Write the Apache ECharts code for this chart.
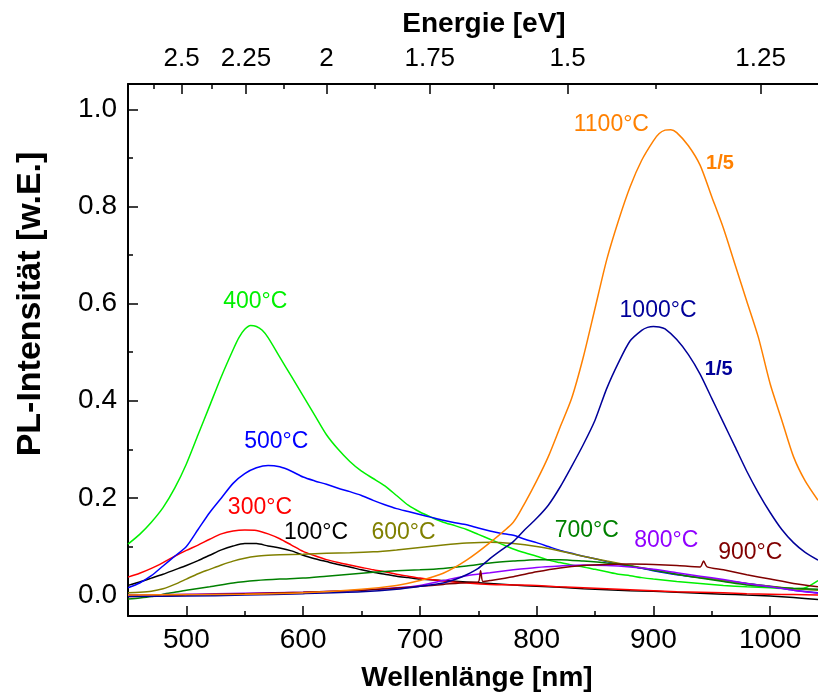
<!DOCTYPE html>
<html>
<head>
<meta charset="utf-8">
<script src="https://cdn.jsdelivr.net/npm/echarts@6/dist/echarts.min.js"></script>
<style>
html,body{margin:0;padding:0;background:#fff;}
#c{width:818px;height:697px;}
</style>
</head>
<body>
<div id="c"></div>
<script>
// ---- data ----
const xTicksNm = [500, 600, 700, 800, 900, 1000];
const xMinorNm = [550, 650, 750, 850, 950];
const yTicks = [0, 0.2, 0.4, 0.6, 0.8, 1.0];
const yMinor = [0.1, 0.3, 0.5, 0.7, 0.9];
const energyTicks = [2.5, 2.25, 2, 1.75, 1.5, 1.25];
const energyLabels = ["2.5", "2.25", "2", "1.75", "1.5", "1.25"];
const energyMinor = [2.625, 2.375, 2.125, 1.875, 1.625, 1.375];

const seriesNames = ["100°C","300°C","400°C","500°C","600°C","700°C","800°C","900°C","1000°C","1100°C"];

const pl100 = [[450,0.02],[460,0.027],[470,0.035],[480,0.043],[490,0.052],[500,0.061],[510,0.071],[520,0.082],[530,0.093],[540,0.101],[550,0.106],[560,0.106],[570,0.101],[580,0.097],[590,0.091],[600,0.082],[610,0.075],[620,0.069],[630,0.063],[640,0.058],[650,0.052],[660,0.047],[670,0.043],[680,0.039],[690,0.036],[700,0.033],[720,0.03],[740,0.027],[760,0.024],[780,0.021],[800,0.018],[820,0.016],[840,0.013],[860,0.011],[880,0.009],[900,0.008],[920,0.006],[940,0.004],[960,0.002],[980,0.0],[1000,-0.002],[1020,-0.005],[1041,-0.009]];
const pl300 = [[450,0.037],[460,0.045],[470,0.055],[480,0.067],[490,0.08],[500,0.092],[510,0.103],[520,0.115],[530,0.126],[540,0.132],[550,0.134],[560,0.133],[570,0.126],[580,0.116],[590,0.103],[600,0.09],[610,0.081],[620,0.073],[630,0.067],[640,0.062],[650,0.057],[660,0.052],[670,0.048],[680,0.043],[690,0.039],[700,0.035],[720,0.029],[740,0.025],[760,0.022],[780,0.021],[800,0.02],[820,0.017],[840,0.015],[860,0.013],[880,0.011],[900,0.009],[920,0.007],[940,0.006],[960,0.005],[980,0.003],[1000,0.002],[1020,0.001],[1041,0.0]];
const pl400 = [[450,0.105],[460,0.125],[470,0.15],[480,0.18],[490,0.22],[500,0.27],[510,0.33],[520,0.39],[530,0.45],[540,0.505],[545,0.53],[550,0.547],[555,0.555],[560,0.553],[565,0.545],[570,0.53],[580,0.49],[590,0.45],[600,0.41],[610,0.37],[620,0.33],[630,0.3],[640,0.275],[650,0.255],[660,0.24],[670,0.225],[680,0.205],[690,0.185],[700,0.171],[710,0.16],[720,0.15],[730,0.143],[740,0.135],[750,0.125],[760,0.115],[770,0.105],[780,0.095],[790,0.087],[800,0.08],[810,0.072],[820,0.067],[830,0.062],[840,0.058],[850,0.053],[860,0.048],[870,0.043],[880,0.04],[890,0.036],[900,0.033],[920,0.028],[940,0.024],[960,0.02],[980,0.017],[1000,0.015],[1020,0.013],[1030,0.015],[1041,0.03]];
const pl500 = [[450,0.015],[460,0.025],[470,0.04],[480,0.06],[490,0.08],[500,0.1],[510,0.135],[520,0.17],[530,0.2],[540,0.23],[550,0.25],[560,0.262],[570,0.267],[580,0.264],[590,0.255],[600,0.243],[610,0.235],[620,0.228],[630,0.22],[640,0.213],[650,0.205],[660,0.195],[670,0.186],[680,0.178],[690,0.172],[700,0.166],[710,0.16],[720,0.154],[730,0.149],[740,0.145],[750,0.138],[760,0.132],[770,0.127],[780,0.123],[790,0.115],[800,0.108],[810,0.1],[820,0.092],[830,0.086],[840,0.08],[850,0.075],[860,0.069],[870,0.064],[880,0.06],[890,0.055],[900,0.05],[920,0.042],[940,0.036],[960,0.03],[980,0.024],[1000,0.018],[1020,0.01],[1041,0.005]];
const pl600 = [[450,0.005],[460,0.006],[470,0.008],[480,0.013],[490,0.022],[500,0.033],[510,0.044],[520,0.053],[530,0.062],[540,0.07],[550,0.076],[560,0.08],[570,0.082],[580,0.083],[600,0.084],[620,0.086],[640,0.087],[660,0.089],[680,0.093],[700,0.098],[720,0.103],[740,0.107],[760,0.109],[780,0.106],[800,0.1],[820,0.091],[840,0.08],[860,0.07],[880,0.061],[900,0.052],[920,0.043],[940,0.036],[960,0.03],[980,0.024],[1000,0.018],[1020,0.013],[1041,0.01]];
const pl700 = [[450,-0.008],[460,-0.006],[470,-0.003],[480,0.002],[490,0.006],[500,0.01],[520,0.017],[540,0.025],[560,0.03],[580,0.033],[600,0.035],[620,0.039],[640,0.043],[660,0.047],[680,0.05],[700,0.052],[720,0.055],[740,0.06],[760,0.066],[780,0.07],[800,0.073],[820,0.073],[840,0.07],[860,0.066],[880,0.06],[900,0.051],[920,0.043],[940,0.035],[960,0.028],[980,0.021],[1000,0.017],[1020,0.014],[1041,0.012]];
const pl800 = [[450,0.0],[480,0.001],[500,0.002],[550,0.004],[600,0.006],[640,0.009],[660,0.012],[680,0.015],[700,0.02],[720,0.03],[740,0.04],[760,0.046],[780,0.052],[800,0.057],[820,0.06],[840,0.062],[860,0.061],[880,0.058],[900,0.053],[920,0.046],[940,0.039],[960,0.032],[980,0.024],[1000,0.017],[1020,0.01],[1041,0.004]];
const pl900 = [[450,-0.003],[480,-0.002],[500,0.0],[550,0.003],[600,0.006],[650,0.01],[700,0.018],[720,0.022],[740,0.026],[750,0.027],[752,0.05],[754,0.028],[760,0.03],[780,0.038],[800,0.048],[820,0.056],[840,0.061],[860,0.063],[880,0.064],[900,0.063],[920,0.061],[940,0.058],[943,0.07],[946,0.058],[960,0.052],[980,0.042],[1000,0.033],[1020,0.024],[1041,0.017]];
const pl1000 = [[450,-0.003],[500,-0.002],[550,0.0],[600,0.003],[650,0.007],[680,0.012],[700,0.018],[720,0.025],[730,0.032],[740,0.042],[750,0.055],[760,0.075],[770,0.093],[780,0.11],[790,0.135],[800,0.158],[810,0.185],[820,0.222],[830,0.265],[840,0.31],[850,0.36],[860,0.425],[870,0.478],[880,0.523],[890,0.545],[895,0.551],[900,0.553],[905,0.552],[910,0.548],[920,0.526],[930,0.495],[940,0.455],[950,0.405],[960,0.355],[970,0.305],[980,0.255],[990,0.21],[1000,0.17],[1010,0.135],[1020,0.108],[1030,0.088],[1041,0.072]];
const pl1100 = [[450,0.0],[500,0.001],[550,0.002],[600,0.005],[650,0.012],[680,0.02],[700,0.03],[720,0.045],[740,0.072],[760,0.108],[780,0.15],[790,0.19],[800,0.235],[810,0.285],[820,0.345],[830,0.405],[840,0.49],[850,0.59],[860,0.69],[870,0.77],[880,0.84],[890,0.895],[900,0.935],[905,0.95],[910,0.957],[915,0.958],[920,0.952],[930,0.925],[940,0.885],[950,0.82],[960,0.755],[970,0.68],[980,0.605],[990,0.53],[1000,0.435],[1010,0.36],[1020,0.285],[1030,0.235],[1041,0.195]];

// label anchor positions (data coords) for the in-plot annotations
const labelPos = {
  "100°C": [611, 0.129], "300°C": [563, 0.179], "400°C": [559, 0.605], "500°C": [577, 0.315],
  "600°C": [686, 0.129], "700°C": [843, 0.133], "800°C": [911, 0.112], "900°C": [983, 0.087],
  "1000°C": [904, 0.586], "1100°C": [864, 0.968]
};
const scaleNotes = [["1/5", [957, 0.889], "1100°C"], ["1/5", [956, 0.465], "1000°C"]];

const colors = {
  "100°C": "#000000", "300°C": "#ff0000", "400°C": "#00f000", "500°C": "#0000ff",
  "600°C": "#808000", "700°C": "#008000", "800°C": "#9000ff", "900°C": "#800000",
  "1000°C": "#000099", "1100°C": "#ff8000"
};
const dataSets = [pl100, pl300, pl400, pl500, pl600, pl700, pl800, pl900, pl1000, pl1100];

// ---- chart ----
const HC = 1239.84;
const FONT = "'Liberation Sans', Arial, sans-serif";
const XMIN = 450, XMAX = 1041, YMIN = -0.043, YMAX = 1.052;
const energyNm = energyTicks.map(e => HC / e);
const energyMinorNm = energyMinor.map(e => HC / e);

function baseX(extra) {
  return Object.assign({
    type: 'value', min: XMIN, max: XMAX, gridIndex: 0,
    splitLine: { show: false }, axisLine: { onZero: false }
  }, extra);
}

const series = seriesNames.map((name, i) => {
  const mpData = [{ coord: labelPos[name], value: name,
    label: { formatter: name, fontSize: 23, color: colors[name] } }];
  scaleNotes.forEach(n => {
    if (n[2] === name) mpData.push({ coord: n[1], value: n[0],
      label: { formatter: n[0], fontSize: 20, fontWeight: 'bold', color: colors[name] } });
  });
  return {
    name: name, type: 'line', data: dataSets[i], showSymbol: false, symbol: 'none',
    xAxisIndex: 0, yAxisIndex: 0, clip: true, smooth: 0.25,
    lineStyle: { width: 1.5, color: colors[name] },
    itemStyle: { color: colors[name] },
    emphasis: { disabled: true },
    markPoint: {
      symbol: 'circle', symbolSize: 0, silent: true, animation: false,
      label: { show: true, position: 'inside', fontFamily: FONT },
      data: mpData
    }
  };
});

const chart = echarts.init(document.getElementById('c'), null, { renderer: 'canvas' });
chart.setOption({
  animation: false,
  backgroundColor: '#ffffff',
  textStyle: { fontFamily: FONT },
  grid: { left: 128, right: 0, top: 84, bottom: 80, containLabel: false },
  xAxis: [
    baseX({
      position: 'bottom',
      axisLine: { show: true, onZero: false, lineStyle: { color: '#000', width: 2 } },
      axisTick: { show: true, inside: true, length: 10, customValues: xTicksNm, lineStyle: { color: '#000', width: 1.5 } },
      axisLabel: { show: true, customValues: xTicksNm, fontSize: 28, color: '#000', margin: 10, fontFamily: FONT,
        formatter: v => String(Math.round(v)) },
      name: 'Wellenlänge [nm]', nameLocation: 'middle', nameGap: 48,
      nameTextStyle: { fontSize: 28, fontWeight: 'bold', color: '#000', fontFamily: FONT, padding: [0, 0, 0, 8] }
    }),
    baseX({
      position: 'top',
      axisLine: { show: true, onZero: false, lineStyle: { color: '#000', width: 2 } },
      axisTick: { show: true, inside: true, length: 10, customValues: energyNm, lineStyle: { color: '#000', width: 1.5 } },
      axisLabel: {
        show: true, customValues: energyNm, fontSize: 26, color: '#000', margin: 12, fontFamily: FONT,
        formatter: function (v) {
          for (let i = 0; i < energyNm.length; i++) if (Math.abs(energyNm[i] - v) < 0.01) return energyLabels[i];
          return '';
        }
      },
      name: 'Energie [eV]', nameLocation: 'middle', nameGap: 46,
      nameTextStyle: { fontSize: 28, fontWeight: 'bold', color: '#000', fontFamily: FONT, padding: [0, 0, 0, 22] }
    }),
    baseX({
      position: 'top', offset: 0,
      axisLine: { show: false, onZero: false },
      axisTick: { show: true, inside: true, length: 5, customValues: energyMinorNm, lineStyle: { color: '#000', width: 1.5 } },
      axisLabel: { show: false }
    }),
    baseX({
      position: 'bottom', offset: 0,
      axisLine: { show: false, onZero: false },
      axisTick: { show: true, inside: true, length: 5, customValues: xMinorNm, lineStyle: { color: '#000', width: 1.5 } },
      axisLabel: { show: false }
    })
  ],
  yAxis: [
    {
      type: 'value', min: YMIN, max: YMAX, position: 'left',
      splitLine: { show: false },
      axisLine: { show: true, onZero: false, lineStyle: { color: '#000', width: 2 } },
      axisTick: { show: true, inside: true, length: 10, customValues: yTicks, lineStyle: { color: '#000', width: 1.5 } },
      axisLabel: { show: true, customValues: yTicks, fontSize: 28, color: '#000', margin: 11, fontFamily: FONT,
        formatter: v => v.toFixed(1) },
      name: 'PL-Intensität [w.E.]', nameLocation: 'middle', nameGap: 80,
      nameTextStyle: { fontSize: 34, fontWeight: 'bold', color: '#000', fontFamily: FONT, padding: [0, 0, 0, 92] }
    },
    {
      type: 'value', min: YMIN, max: YMAX, position: 'left', offset: 0,
      splitLine: { show: false },
      axisLine: { show: false, onZero: false },
      axisTick: { show: true, inside: true, length: 5, customValues: yMinor, lineStyle: { color: '#000', width: 1.5 } },
      axisLabel: { show: false }
    }
  ],
  series: series
});
</script>
</body>
</html>
